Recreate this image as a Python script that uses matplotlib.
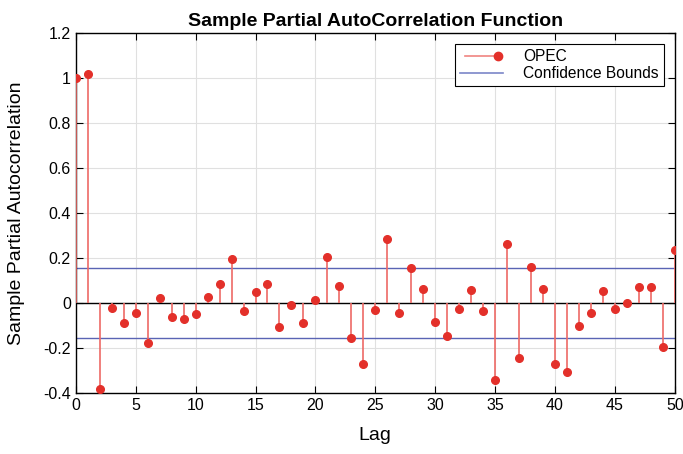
import numpy as np
import matplotlib
matplotlib.use("Agg")
from matplotlib import pyplot as plt
from matplotlib.lines import Line2D
from matplotlib.legend_handler import HandlerLine2D

plt.rcParams['font.family'] = ['Liberation Sans', 'DejaVu Sans']

# partial autocorrelation values, lags 0..50
lags = np.arange(0, 51)
pacf = [1.0, 1.02, -0.38, -0.02, -0.09, -0.045, -0.175, 0.025, -0.06, -0.07,
        -0.05, 0.028, 0.087, 0.195, -0.035, 0.05, 0.087, -0.105, -0.01, -0.09,
        0.012, 0.205, 0.075, -0.155, -0.27, -0.03, 0.285, -0.045, 0.155, 0.065,
        -0.085, -0.145, -0.027, 0.06, -0.037, -0.34, 0.265, -0.245, 0.16, 0.065,
        -0.27, -0.305, -0.1, -0.042, 0.053, -0.027, 0.0, 0.07, 0.07, -0.195,
        0.235]
bound = 0.157

stem_col = '#ee6a66'
dot_col = '#e3302a'
blue = '#5a64b4'


# legend glyph: line with the dot at the right end only
class EndDotHandler(HandlerLine2D):
    def create_artists(self, legend, orig_handle, xdescent, ydescent,
                       width, height, fontsize, trans):
        arts = super().create_artists(legend, orig_handle, xdescent, ydescent,
                                      width, height, fontsize, trans)
        for a in arts:
            a.set_markevery([1])
        return arts


fig = plt.figure(figsize=(6.83, 4.54), dpi=100)
ax = fig.add_axes([0.111, 0.134, 0.877, 0.793])

ax.axhline(0, color='black', lw=1, zorder=2)
ax.vlines(lags, 0, pacf, color=stem_col, lw=1.2, zorder=3)
ax.plot(lags, pacf, 'o', color=dot_col, ms=5.5, zorder=4)
ax.axhline(bound, color=blue, lw=1, zorder=2)
ax.axhline(-bound, color=blue, lw=1, zorder=2)

ax.set_xlim(0, 50)
ax.set_ylim(-0.4, 1.2)
ax.set_xticks(np.arange(0, 51, 5))
ax.set_yticks([-0.4, -0.2, 0, 0.2, 0.4, 0.6, 0.8, 1, 1.2])
ax.set_yticklabels(['-0.4', '-0.2', '0', '0.2', '0.4', '0.6', '0.8', '1', '1.2'])
ax.grid(True, color='#e0e0e0', lw=0.8)
ax.set_axisbelow(True)
ax.tick_params(direction='in', top=True, right=True, labelsize=11.5, length=5)
for s in ax.spines.values():
    s.set_linewidth(1)

ax.set_title('Sample Partial AutoCorrelation Function', fontsize=14, fontweight='bold', pad=5)
ax.set_xlabel('Lag', fontsize=14, labelpad=10)
ax.set_ylabel('Sample Partial Autocorrelation', fontsize=14, labelpad=13)

h1 = Line2D([], [], color='#f08480', lw=1.2, marker='o', mfc=dot_col, mec=dot_col, ms=6)
h2 = Line2D([], [], color='#7c86c8', lw=1.2)
leg = ax.legend([h1, h2], ['OPEC', 'Confidence Bounds'], loc='upper right',
                handler_map={h1: EndDotHandler(numpoints=2)}, fontsize=11.2,
                fancybox=False, framealpha=1, edgecolor='black', borderpad=0.35,
                labelspacing=0.1, handlelength=2.75, handletextpad=1.3,
                borderaxespad=0.7)
leg.get_frame().set_linewidth(0.8)

fig.savefig('out.png', dpi=100)
